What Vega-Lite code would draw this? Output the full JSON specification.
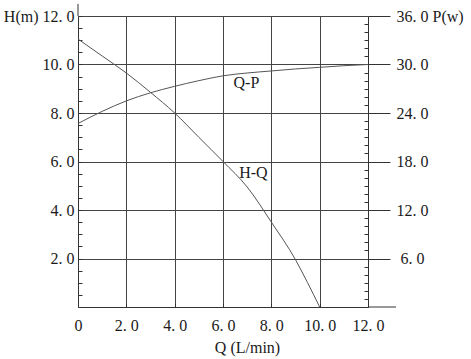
{
  "$schema": "https://vega.github.io/schema/vega-lite/v6.json",
  "autosize": {"type": "none"},
  "padding": {"left": 78, "top": 16, "right": 103, "bottom": 52},
  "width": 290,
  "height": 291,
  "config": {
    "view": {"stroke": null},
    "font": "Liberation Serif",
    "axis": {
      "labelFont": "Liberation Serif",
      "labelFontSize": 16,
      "labelColor": "#1a1a1a",
      "titleFont": "Liberation Serif",
      "titleFontSize": 16,
      "titleFontWeight": "normal",
      "titleColor": "#1a1a1a",
      "domainColor": "#333333",
      "tickColor": "#333333",
      "gridColor": "#444444",
      "labelOverlap": false,
      "labelFlush": false
    }
  },
  "layer": [
    {
      "data": {"values": [
        {"Q": 0, "H": 11.05}, {"Q": 1, "H": 10.35}, {"Q": 2, "H": 9.65}, {"Q": 3, "H": 8.85},
        {"Q": 4, "H": 8.0}, {"Q": 5, "H": 7.0}, {"Q": 6, "H": 6.0}, {"Q": 7, "H": 4.95},
        {"Q": 8, "H": 3.5}, {"Q": 9, "H": 1.95}, {"Q": 9.5, "H": 1.0}, {"Q": 10, "H": 0}
      ]},
      "mark": {"type": "line", "interpolate": "monotone", "stroke": "#555555", "strokeWidth": 1},
      "encoding": {
        "x": {
          "field": "Q", "type": "quantitative",
          "scale": {"domain": [0, 12], "nice": false},
          "axis": {
            "values": [0,0.5,1,1.5,2,2.5,3,3.5,4,4.5,5,5.5,6,6.5,7,7.5,8,8.5,9,9.5,10,10.5,11,11.5,12],
            "title": "Q (L/min)",
            "labelExpr": "datum.value % 2 === 0 ? (datum.value === 0 ? '0' : replace(format(datum.value, '.1f'), '.', '. ')) : ''",
            "tickSize": -4,
            "labelPadding": 14,
            "grid": true,
            "gridOpacity": {"condition": {"test": "datum.value % 2 === 0 && datum.value > 0 && datum.value < 12", "value": 1}, "value": 0},
            "titleX": 169,
            "titleY": 40,
            "titleBaseline": "middle",
            "titleAlign": "center"
          }
        },
        "y": {
          "field": "H", "type": "quantitative",
          "scale": {"domain": [0, 12], "nice": false},
          "axis": {
            "values": [0.5,1,1.5,2,2.5,3,3.5,4,4.5,5,5.5,6,6.5,7,7.5,8,8.5,9,9.5,10,10.5,11,11.5,12],
            "title": null,
            "labelExpr": "datum.value % 2 === 0 ? (datum.value === 12 ? 'H(m) 12. 0' : replace(format(datum.value, '.1f'), '.', '. ')) : ''",
            "tickSize": -4,
            "labelPadding": 8,
            "grid": true,
            "gridOpacity": {"condition": {"test": "datum.value % 2 === 0", "value": 1}, "value": 0}
          }
        }
      }
    },
    {
      "data": {"values": [
        {"Q": 0, "P": 22.7}, {"Q": 1, "P": 24.2}, {"Q": 2, "P": 25.5}, {"Q": 3, "P": 26.5},
        {"Q": 4, "P": 27.3}, {"Q": 5, "P": 28.0}, {"Q": 6, "P": 28.6}, {"Q": 7, "P": 28.95},
        {"Q": 8, "P": 29.2}, {"Q": 9, "P": 29.45}, {"Q": 10, "P": 29.65}, {"Q": 11, "P": 29.85},
        {"Q": 12, "P": 30.0}
      ]},
      "mark": {"type": "line", "interpolate": "monotone", "stroke": "#555555", "strokeWidth": 1},
      "encoding": {
        "x": {"field": "Q", "type": "quantitative", "scale": {"domain": [0, 12], "nice": false}},
        "y": {
          "field": "P", "type": "quantitative",
          "scale": {"domain": [0, 36], "nice": false},
          "axis": {
            "orient": "right",
            "values": [1,2,3,4,5,6,7,8,9,10,11,12,13,14,15,16,17,18,19,20,21,22,23,24,25,26,27,28,29,30,31,32,33,34,35,36],
            "title": null,
            "labelExpr": "datum.value % 6 === 0 ? (datum.value === 36 ? '36. 0 P(w)' : replace(format(datum.value, '.1f'), '.', '. ')) : ''",
            "tickSize": {"condition": {"test": "datum.value % 6 === 0", "value": 22}, "value": -4},
            "labelAlign": "left",
            "labelPadding": {"condition": {"test": "datum.value < 10", "value": 10}, "value": 6},
            "grid": false
          }
        }
      }
    },
    {
      "data": {"values": [
        {"Q": 6.97, "H": 9.25, "label": "Q-P"},
        {"Q": 7.26, "H": 5.53, "label": "H-Q"}
      ]},
      "mark": {"type": "text", "font": "Liberation Serif", "fontSize": 16, "color": "#1a1a1a", "align": "center", "baseline": "middle"},
      "encoding": {
        "x": {"field": "Q", "type": "quantitative", "scale": {"domain": [0, 12], "nice": false}},
        "y": {"field": "H", "type": "quantitative", "scale": {"domain": [0, 12], "nice": false}, "axis": null},
        "text": {"field": "label"}
      }
    },
    {
      "data": {"values": [{}]},
      "mark": {"type": "rule", "color": "#333333", "strokeWidth": 1},
      "encoding": {
        "x": {"datum": 12, "type": "quantitative", "scale": {"domain": [0, 12], "nice": false}},
        "x2": {"datum": 13.16},
        "y": {"datum": 0, "type": "quantitative", "scale": {"domain": [0, 12], "nice": false}, "axis": null}
      }
    },
    {
      "data": {"values": [{}]},
      "mark": {"type": "rule", "color": "#333333", "strokeWidth": 1},
      "encoding": {
        "x": {"datum": 0, "type": "quantitative", "scale": {"domain": [0, 12], "nice": false}},
        "y": {"datum": 12, "type": "quantitative", "scale": {"domain": [0, 12], "nice": false}, "axis": null},
        "y2": {"datum": 12.5}
      }
    }
  ],
  "resolve": {"scale": {"y": "independent"}}
}
